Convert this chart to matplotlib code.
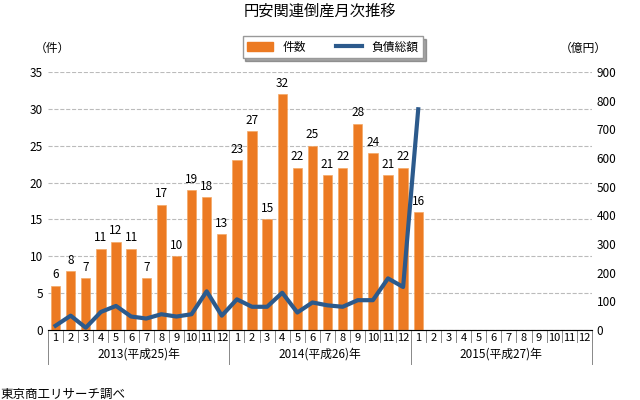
import numpy as np
import matplotlib.pyplot as plt
from matplotlib.patches import Patch
from matplotlib.lines import Line2D

plt.rcParams['font.family'] = ['Noto Sans CJK JP', 'DejaVu Sans']

counts = [6, 8, 7, 11, 12, 11, 7, 17, 10, 19, 18, 13,
          23, 27, 15, 32, 22, 25, 21, 22, 28, 24, 21, 22,
          16]
debt = [15, 50, 8, 63, 84, 47, 40, 55, 47, 55, 135, 50,
        107, 81, 81, 130, 61, 96, 86, 81, 104, 104, 180, 150,
        770]
month_labels = [str(m) for m in range(1, 13)] * 3
year_labels = ["2013(平成25)年", "2014(平成26)年", "2015(平成27)年"]

fig = plt.figure(figsize=(6.4, 4.0), dpi=100)
ax = fig.add_axes([0.075, 0.175, 0.85, 0.645])
ax2 = ax.twinx()

x = np.arange(len(counts))
ax.bar(x, counts, width=0.62, color='#ec7a22', edgecolor='#f4a866', linewidth=0.5, zorder=2)
for xi, c in zip(x, counts):
    ax.text(xi, c + 0.6, str(c), ha='center', va='bottom', fontsize=8.5)
ax2.plot(x, debt, color='#2c5a8c', lw=3, zorder=3)

ax.set_xlim(-0.5, 35.5)
ax.set_ylim(0, 35)
ax2.set_ylim(0, 900)
ax.set_yticks(range(0, 36, 5))
ax2.set_yticks(range(0, 901, 100))
ax.yaxis.grid(True, ls='--', color='#bbbbbb', lw=0.8, zorder=0)
ax.set_axisbelow(True)
for a in (ax, ax2):
    for s in ['top', 'left', 'right']:
        a.spines[s].set_visible(False)
    a.tick_params(axis='y', length=0, labelsize=8.5)
ax.set_xticks(range(36))
ax.set_xticklabels(month_labels, fontsize=8)
ax.tick_params(axis='x', length=0, pad=2)
ax.spines['bottom'].set_color('#888888')

# 月・年の区切り線
for b in np.arange(-0.5, 36, 1):
    ax.plot([b, b], [0, -1.6], color='#888888', lw=0.7, clip_on=False)
for i, yl in enumerate(year_labels):
    ax.plot([12 * i - 0.5] * 2, [0, -4.6], color='#888888', lw=0.7, clip_on=False)
    ax.text(12 * i + 5.5, -3.3, yl, ha='center', va='center', fontsize=8.5)
ax.plot([35.5] * 2, [0, -4.6], color='#888888', lw=0.7, clip_on=False)

fig.text(0.5, 0.96, "円安関連倒産月次推移", ha='center', fontsize=11)
fig.text(0.055, 0.87, "（件）", fontsize=8.5)
fig.text(0.875, 0.87, "（億円）", fontsize=8.5)
fig.text(0.0, 0.005, "東京商工リサーチ調べ", fontsize=9)

fig.legend([Patch(color='#ec7a22'), Line2D([], [], color='#2c5a8c', lw=3)],
           ["件数", "負債総額"], loc='upper center', bbox_to_anchor=(0.52, 0.925),
           ncol=2, fontsize=8.5, frameon=True, fancybox=False, shadow=True,
           edgecolor='#999999', handlelength=2.2, columnspacing=2.5)

fig.savefig("out.png", dpi=100)
